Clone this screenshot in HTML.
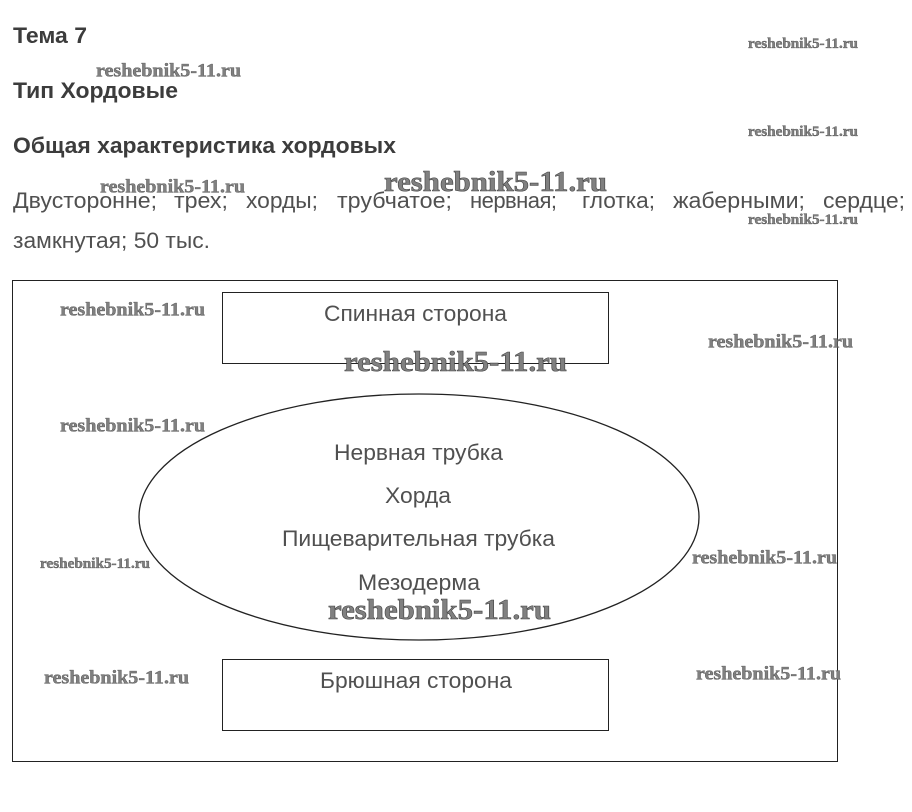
<!DOCTYPE html>
<html lang="ru">
<head>
<meta charset="utf-8">
<title>Тип Хордовые</title>
<style>
html,body{margin:0;padding:0;background:#fff;width:912px;height:812px;overflow:hidden}
svg{display:block}
.h{font:bold 22px "Liberation Sans",sans-serif;fill:#3c3c3c}
.t{font:22px "Liberation Sans",sans-serif;fill:#505050}
.w{font-family:"Liberation Serif",serif;font-weight:bold;fill:#808080;stroke:#444;stroke-width:.35}
.s{font-size:14.5px}
.m{font-size:18.5px}
.l{font-size:28.5px;stroke-width:.6}
</style>
</head>
<body>
<svg width="912" height="812" viewBox="0 0 912 812" xmlns="http://www.w3.org/2000/svg">
<rect width="912" height="812" fill="#fff"/>

<text class="h" x="13" y="43" textLength="74" lengthAdjust="spacingAndGlyphs">Тема 7</text>
<text class="h" x="13" y="98" textLength="165" lengthAdjust="spacingAndGlyphs">Тип Хордовые</text>
<text class="h" x="13" y="153" textLength="383" lengthAdjust="spacingAndGlyphs">Общая характеристика хордовых</text>

<g class="t">
<text x="13" y="208" textLength="144" lengthAdjust="spacingAndGlyphs">Двусторонне;</text>
<text x="174" y="208" textLength="54" lengthAdjust="spacingAndGlyphs">трех;</text>
<text x="246" y="208" textLength="72" lengthAdjust="spacingAndGlyphs">хорды;</text>
<text x="337" y="208" textLength="115" lengthAdjust="spacingAndGlyphs">трубчатое;</text>
<text x="470" y="208" textLength="87">нервная;</text>
<text x="582" y="208" textLength="73" lengthAdjust="spacingAndGlyphs">глотка;</text>
<text x="673" y="208" textLength="132" lengthAdjust="spacingAndGlyphs">жаберными;</text>
<text x="823" y="208" textLength="82" lengthAdjust="spacingAndGlyphs">сердце;</text>
<text x="13" y="248" textLength="197" lengthAdjust="spacingAndGlyphs">замкнутая; 50 тыс.</text>
</g>

<g fill="none" stroke="#222" stroke-width="1">
<rect x="12.5" y="280.5" width="825" height="481"/>
<rect x="222.5" y="292.5" width="386" height="71"/>
<rect x="222.5" y="659.5" width="386" height="71"/>
<ellipse cx="419" cy="517" rx="280" ry="123" stroke-width="1.3"/>
</g>

<g class="t">
<text x="324" y="321" textLength="183" lengthAdjust="spacingAndGlyphs">Спинная сторона</text>
<text x="334" y="460" textLength="169" lengthAdjust="spacingAndGlyphs">Нервная трубка</text>
<text x="385" y="503" textLength="66" lengthAdjust="spacingAndGlyphs">Хорда</text>
<text x="282" y="546" textLength="273" lengthAdjust="spacingAndGlyphs">Пищеварительная трубка</text>
<text x="358" y="590" textLength="122" lengthAdjust="spacingAndGlyphs">Мезодерма</text>
<text x="320" y="688" textLength="192" lengthAdjust="spacingAndGlyphs">Брюшная сторона</text>
</g>

<g class="w s">
<text x="748" y="48" textLength="110" lengthAdjust="spacingAndGlyphs">reshebnik5-11.ru</text>
<text x="748" y="136" textLength="110" lengthAdjust="spacingAndGlyphs">reshebnik5-11.ru</text>
<text x="748" y="224" textLength="110" lengthAdjust="spacingAndGlyphs">reshebnik5-11.ru</text>
<text x="40" y="568" textLength="110" lengthAdjust="spacingAndGlyphs">reshebnik5-11.ru</text>
</g>
<g class="w m">
<text x="96" y="76.5" textLength="145" lengthAdjust="spacingAndGlyphs">reshebnik5-11.ru</text>
<text x="100" y="192.5" textLength="145" lengthAdjust="spacingAndGlyphs">reshebnik5-11.ru</text>
<text x="60" y="315.5" textLength="145" lengthAdjust="spacingAndGlyphs">reshebnik5-11.ru</text>
<text x="708" y="347.5" textLength="145" lengthAdjust="spacingAndGlyphs">reshebnik5-11.ru</text>
<text x="60" y="431.5" textLength="145" lengthAdjust="spacingAndGlyphs">reshebnik5-11.ru</text>
<text x="692" y="563.5" textLength="145" lengthAdjust="spacingAndGlyphs">reshebnik5-11.ru</text>
<text x="44" y="683.5" textLength="145" lengthAdjust="spacingAndGlyphs">reshebnik5-11.ru</text>
<text x="696" y="679.5" textLength="145" lengthAdjust="spacingAndGlyphs">reshebnik5-11.ru</text>
</g>
<g class="w l">
<text x="384" y="191" textLength="223" lengthAdjust="spacingAndGlyphs">reshebnik5-11.ru</text>
<text x="344" y="371" textLength="223" lengthAdjust="spacingAndGlyphs">reshebnik5-11.ru</text>
<text x="328" y="619" textLength="223" lengthAdjust="spacingAndGlyphs">reshebnik5-11.ru</text>
</g>
</svg>
</body>
</html>
